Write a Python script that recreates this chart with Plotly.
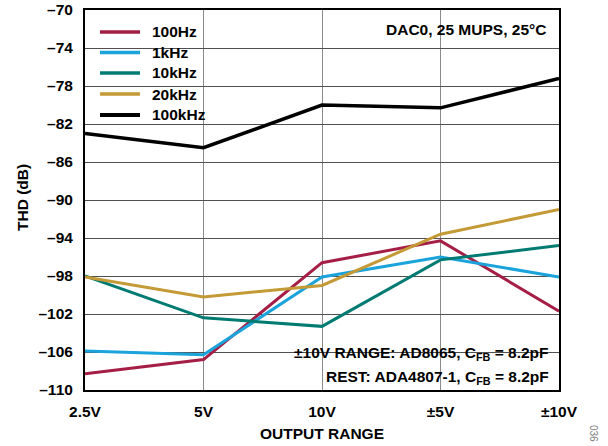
import plotly.graph_objects as go

# Output range categories and THD (dB) per signal frequency
ranges = ["2.5V", "5V", "10V", "±5V", "±10V"]
thd_100hz = [-108.3, -106.8, -96.6, -94.3, -101.7]
thd_1khz = [-105.9, -106.3, -98.1, -96.0, -98.1]
thd_10khz = [-98.0, -102.4, -103.3, -96.3, -94.8]
thd_20khz = [-98.1, -100.2, -99.0, -93.6, -91.0]
thd_100khz = [-83.0, -84.5, -80.0, -80.3, -77.2]

y_ticks = list(range(-70, -111, -4))
y_ticktext = ["–" + str(abs(v)) for v in y_ticks]

series = [
    ("100Hz", thd_100hz, "#A51E45", 3),
    ("1kHz", thd_1khz, "#1BA3DC", 3),
    ("10kHz", thd_10khz, "#007B72", 3),
    ("20kHz", thd_20khz, "#C49A36", 3),
    ("100kHz", thd_100khz, "#000000", 3.5),
]

FONT = "Liberation Sans, Arial, sans-serif"
FS = 15.5
W, H = 608, 446
ML, MR, MT, MB = 85, 49, 10, 56
PW, PH = W - ML - MR, H - MT - MB


def px(x):
    return (x - ML) / PW


def py(y):
    return (H - MB - y) / PH


fig = go.Figure()
x_idx = list(range(len(ranges)))
for name, vals, color, w in series:
    fig.add_trace(go.Scatter(
        x=x_idx, y=vals, mode="lines", name=name,
        line=dict(color=color, width=w), showlegend=False,
    ))


def white_box(x0, x1, y0, y1):
    fig.add_shape(type="rect", xref="paper", yref="paper",
                  x0=px(x0), x1=px(x1), y0=py(y1), y1=py(y0),
                  fillcolor="white", line_width=0, layer="between")


# white panels that hide the grid behind the key and the notes
white_box(86, 215, 11, 122)
white_box(380, 558, 11, 38)
white_box(282, 558, 340, 389)

# key: short line sample plus bold label per series
key_y = [32, 52.5, 73, 94, 115]
for (name, vals, color, w), ky in zip(series, key_y):
    fig.add_shape(type="line", xref="paper", yref="paper",
                  x0=px(100), x1=px(140), y0=py(ky), y1=py(ky),
                  line=dict(color=color, width=w + 0.5), layer="above")
    fig.add_annotation(text="<b>%s</b>" % name, xref="paper", yref="paper",
                       x=px(150), y=py(ky), xanchor="left", yanchor="middle",
                       showarrow=False, font=dict(size=FS, color="black", family=FONT))

note_font = dict(size=FS, color="black", family=FONT)
fig.add_annotation(text="<b>DAC0, 25 MUPS, 25°C</b>", xref="paper", yref="paper",
                   x=px(548), y=py(29), xanchor="right", yanchor="middle",
                   showarrow=False, font=note_font)
fig.add_annotation(text="<b>±10V RANGE: AD8065, C<sub>FB</sub> = 8.2pF</b>",
                   xref="paper", yref="paper", x=px(551), y=py(353),
                   xanchor="right", yanchor="middle", showarrow=False, font=note_font)
fig.add_annotation(text="<b>REST: ADA4807-1, C<sub>FB</sub> = 8.2pF</b>",
                   xref="paper", yref="paper", x=px(551), y=py(377),
                   xanchor="right", yanchor="middle", showarrow=False, font=note_font)

# axis titles
fig.add_annotation(text="<b>THD (dB)</b>", xref="paper", yref="paper",
                   x=px(22), y=py(198), xanchor="center", yanchor="middle",
                   textangle=-90, showarrow=False, font=note_font)
fig.add_annotation(text="<b>OUTPUT RANGE</b>", xref="paper", yref="paper",
                   x=px(322), y=py(433), xanchor="center", yanchor="middle",
                   showarrow=False, font=note_font)
fig.add_annotation(text="036", xref="paper", yref="paper", x=px(594), y=py(433),
                   xanchor="center", yanchor="middle", textangle=90,
                   showarrow=False, font=dict(size=10, color="#808080", family=FONT))

fig.update_layout(
    width=W, height=H,
    margin=dict(l=ML, r=MR, t=MT, b=MB),
    paper_bgcolor="white", plot_bgcolor="white",
    font=dict(family=FONT, color="black", size=FS),
    showlegend=False,
    xaxis=dict(
        range=[0, 4], tickvals=x_idx, ticktext=["<b>%s</b>" % r for r in ranges],
        showgrid=True, gridcolor="#8a8a8a", gridwidth=1,
        showline=True, linecolor="black", linewidth=2, mirror=True,
        ticks="", zeroline=False, automargin=False, ticklabelstandoff=6,
        tickfont=dict(size=FS),
    ),
    yaxis=dict(
        range=[-110, -70], tickvals=y_ticks,
        ticktext=["<b>%s</b>" % t for t in y_ticktext],
        showgrid=True, gridcolor="#505050", gridwidth=1,
        showline=True, linecolor="black", linewidth=2, mirror=True,
        ticks="", zeroline=False, automargin=False, ticklabelstandoff=7,
        tickfont=dict(size=FS),
    ),
)

fig.write_html("out.html")
